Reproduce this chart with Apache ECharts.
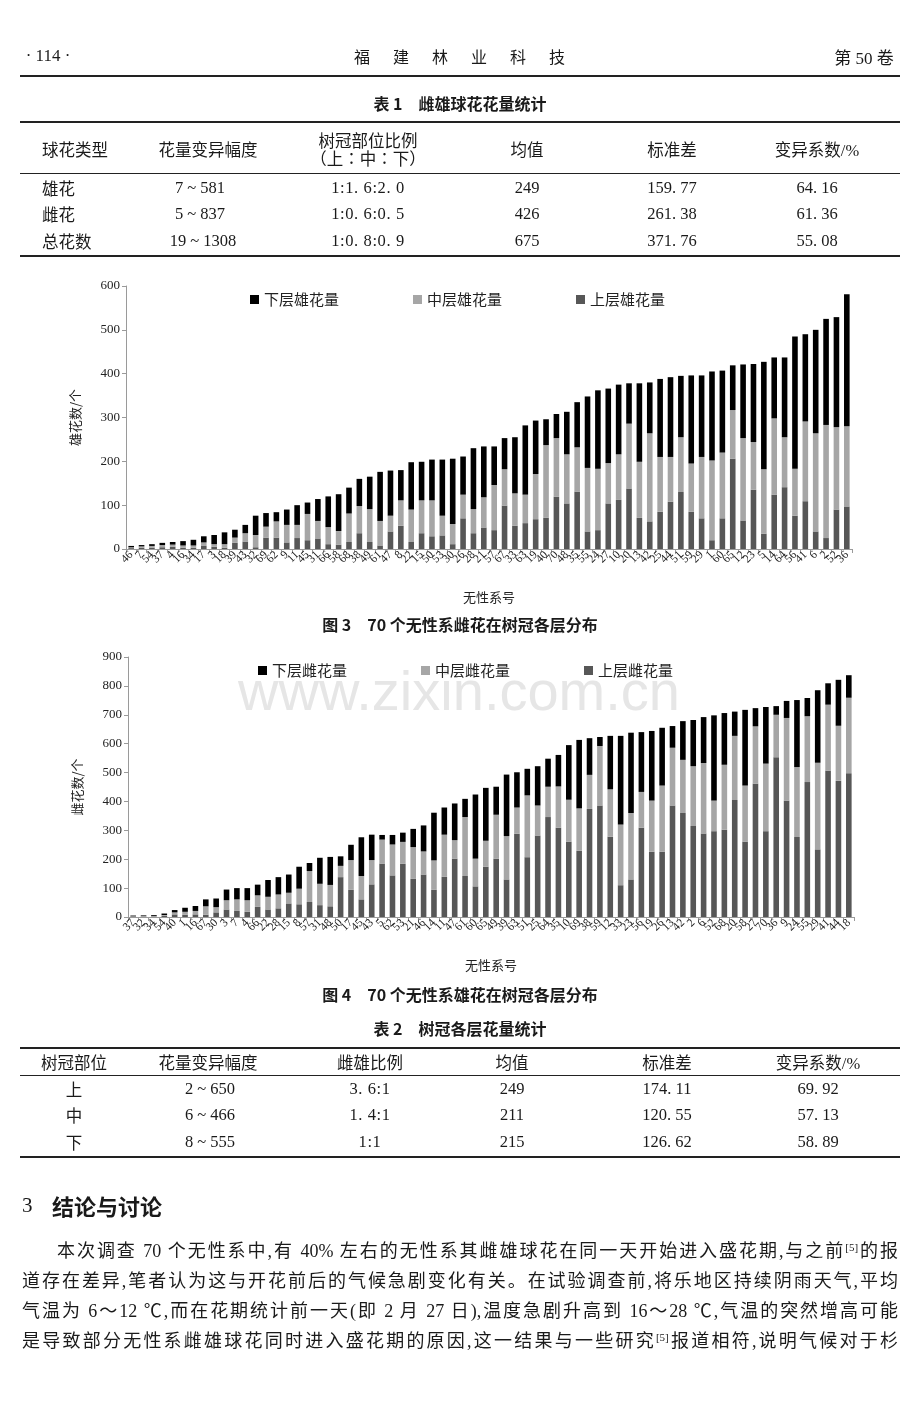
<!DOCTYPE html>
<html><head><meta charset="utf-8">
<script src="https://cdn.jsdelivr.net/npm/echarts@6/dist/echarts.min.js"></script>
<style>
html,body{margin:0;padding:0;background:#fff;}
#page{position:relative;width:920px;height:1416px;overflow:hidden;font-family:"Liberation Serif","Noto Sans CJK SC",serif;color:#1a1a1a;background:#fff;}
#chart{position:absolute;left:0;top:0;width:920px;height:1416px;}
#wm{position:absolute;left:459px;top:690px;transform:translate(-50%,-50%);font-family:"Liberation Sans",Arial,sans-serif;font-size:56px;color:#e6e6e6;white-space:nowrap;}
.c{position:absolute;transform:translate(-50%,-50%);white-space:nowrap;}
.l{position:absolute;transform:translateY(-50%);white-space:nowrap;}
.rule{position:absolute;left:20px;width:880px;background:#222;}
.b{font-family:"Noto Sans CJK SC",sans-serif;font-weight:bold;}
.tb{font-size:16.5px;}
.rt{letter-spacing:0.6px;}
.para{position:absolute;font-size:18px;font-family:"Liberation Serif","Noto Sans CJK SC",serif;text-align:justify;text-align-last:justify;white-space:nowrap;transform:translateY(-50%);line-height:22px;}
sup{font-size:11px;vertical-align:6px;line-height:0;}
.cap{font-size:16px;}
</style>
</head><body>
<div id="page">
<div id="wm">www.zixin.com.cn</div>
<div id="chart"></div>

<div class="c" style="left:48px;top:56px;font-size:17px;">· 114 ·</div>
<div class="c" style="left:471px;top:56px;font-size:16px;letter-spacing:23px;">福建林业科技</div>
<div class="c" style="left:864px;top:56px;font-size:17px;">第 50 卷</div>
<div class="rule" style="top:75px;height:1.5px;"></div>

<div class="c b cap" style="left:460px;top:103px;">表 1　雌雄球花花量统计</div>
<div class="rule" style="top:121px;height:1.5px;"></div>
<div class="rule" style="top:173px;height:1px;"></div>
<div class="rule" style="top:255px;height:1.5px;"></div>
<div class="l tb" style="left:42px;top:149px;">球花类型</div>
<div class="c tb" style="left:208px;top:149px;">花量变异幅度</div>
<div class="c tb" style="left:368px;top:140px;">树冠部位比例</div>
<div class="c tb" style="left:368px;top:158px;">（上∶中∶下）</div>
<div class="c tb" style="left:527px;top:149px;">均值</div>
<div class="c tb" style="left:672px;top:149px;">标准差</div>
<div class="c tb" style="left:817px;top:149px;">变异系数/%</div>

<div class="l tb" style="left:42px;top:188px;">雄花</div>
<div class="c tb" style="left:200px;top:188px;">7 ~ 581</div>
<div class="c tb rt" style="left:368px;top:188px;">1:1. 6:2. 0</div>
<div class="c tb" style="left:527px;top:188px;">249</div>
<div class="c tb" style="left:672px;top:188px;">159. 77</div>
<div class="c tb" style="left:817px;top:188px;">64. 16</div>

<div class="l tb" style="left:42px;top:214px;">雌花</div>
<div class="c tb" style="left:200px;top:214px;">5 ~ 837</div>
<div class="c tb rt" style="left:368px;top:214px;">1:0. 6:0. 5</div>
<div class="c tb" style="left:527px;top:214px;">426</div>
<div class="c tb" style="left:672px;top:214px;">261. 38</div>
<div class="c tb" style="left:817px;top:214px;">61. 36</div>

<div class="l tb" style="left:42px;top:241px;">总花数</div>
<div class="c tb" style="left:203px;top:241px;">19 ~ 1308</div>
<div class="c tb rt" style="left:368px;top:241px;">1:0. 8:0. 9</div>
<div class="c tb" style="left:527px;top:241px;">675</div>
<div class="c tb" style="left:672px;top:241px;">371. 76</div>
<div class="c tb" style="left:817px;top:241px;">55. 08</div>

<div class="c b cap" style="left:460px;top:624px;">图 3　70 个无性系雌花在树冠各层分布</div>
<div class="c b cap" style="left:460px;top:994px;">图 4　70 个无性系雄花在树冠各层分布</div>

<div class="c b cap" style="left:460px;top:1028px;">表 2　树冠各层花量统计</div>
<div class="rule" style="top:1047px;height:1.5px;"></div>
<div class="rule" style="top:1075px;height:1px;"></div>
<div class="rule" style="top:1156px;height:1.5px;"></div>
<div class="c tb" style="left:74px;top:1062px;">树冠部位</div>
<div class="c tb" style="left:208px;top:1062px;">花量变异幅度</div>
<div class="c tb" style="left:370px;top:1062px;">雌雄比例</div>
<div class="c tb" style="left:512px;top:1062px;">均值</div>
<div class="c tb" style="left:667px;top:1062px;">标准差</div>
<div class="c tb" style="left:818px;top:1062px;">变异系数/%</div>

<div class="c tb" style="left:74px;top:1089px;">上</div>
<div class="c tb" style="left:210px;top:1089px;">2 ~ 650</div>
<div class="c tb rt" style="left:370px;top:1089px;">3. 6:1</div>
<div class="c tb" style="left:512px;top:1089px;">249</div>
<div class="c tb" style="left:667px;top:1089px;">174. 11</div>
<div class="c tb" style="left:818px;top:1089px;">69. 92</div>

<div class="c tb" style="left:74px;top:1115px;">中</div>
<div class="c tb" style="left:210px;top:1115px;">6 ~ 466</div>
<div class="c tb rt" style="left:370px;top:1115px;">1. 4:1</div>
<div class="c tb" style="left:512px;top:1115px;">211</div>
<div class="c tb" style="left:667px;top:1115px;">120. 55</div>
<div class="c tb" style="left:818px;top:1115px;">57. 13</div>

<div class="c tb" style="left:74px;top:1142px;">下</div>
<div class="c tb" style="left:210px;top:1142px;">8 ~ 555</div>
<div class="c tb rt" style="left:370px;top:1142px;">1:1</div>
<div class="c tb" style="left:512px;top:1142px;">215</div>
<div class="c tb" style="left:667px;top:1142px;">126. 62</div>
<div class="c tb" style="left:818px;top:1142px;">58. 89</div>

<div class="l" style="left:22px;top:1205px;font-size:21px;">3</div>
<div class="l b" style="left:52px;top:1205px;font-size:22px;">结论与讨论</div>

<div class="para" style="left:57px;width:841px;top:1251px;">本次调查 70 个无性系中,有 40% 左右的无性系其雌雄球花在同一天开始进入盛花期,与之前<sup>[5]</sup>的报</div>
<div class="para" style="left:22px;width:876px;top:1281px;">道存在差异,笔者认为这与开花前后的气候急剧变化有关。在试验调查前,将乐地区持续阴雨天气,平均</div>
<div class="para" style="left:22px;width:876px;top:1311px;">气温为 6～12 ℃,而在花期统计前一天(即 2 月 27 日),温度急剧升高到 16～28 ℃,气温的突然增高可能</div>
<div class="para" style="left:22px;width:876px;top:1341px;">是导致部分无性系雌雄球花同时进入盛花期的原因,这一结果与一些研究<sup>[5]</sup>报道相符,说明气候对于杉</div>
</div>

<script>
// ---- Figure 3 (male flowers) ----
var maleClones = ['46','7','54','37','4','16','34','17','3','18','39','43','32','69','62','9','11','45','31','66','58','68','38','49','61','47','8','22','15','50','53','30','26','28','21','57','67','33','63','19','40','70','48','35','55','24','27','10','20','13','42','25','44','51','59','29','1','60','65','12','23','5','14','64','56','41','6','2','52','36'];
var maleUpper = [2,3,3,4,5,3,3,7,5,3,14,17,4,26,26,15,25,20,24,11,10,16,36,16,8,40,53,16,36,29,31,11,70,36,49,43,99,53,59,68,71,119,104,131,40,43,104,112,138,71,63,85,108,130,85,70,20,70,206,65,135,35,124,141,76,109,40,25,90,97];
var maleMiddle = [2,3,4,5,5,5,5,8,6,8,12,19,28,25,37,40,30,60,40,39,31,65,62,75,56,36,58,74,75,82,45,46,54,55,69,103,83,74,65,103,166,134,112,101,145,140,92,104,148,128,201,125,102,125,110,140,182,150,111,188,109,147,174,114,107,182,224,258,188,183];
var maleLower = [3,3,4,5,6,10,13,14,21,27,18,19,44,31,21,35,45,26,50,70,84,59,62,74,112,103,69,108,88,93,128,149,87,139,116,88,71,128,158,122,59,55,97,103,163,179,170,159,92,179,116,178,182,140,201,186,203,187,102,168,178,245,139,182,302,199,236,242,251,301];
var maleNames = ['下层雄花量','中层雄花量','上层雄花量'];
var maleTicks = [0,100,200,300,400,500,600];

// ---- Figure 4 (female flowers) ----
var femaleClones = ['37','32','34','54','40','1','16','67','30','3','7','4','66','22','28','15','8','57','31','48','50','17','45','43','5','62','53','21','46','14','11','47','61','60','65','49','39','63','51','25','64','35','10','69','38','59','12','33','23','56','19','26','13','42','2','6','52','68','20','58','27','70','36','9','24','55','29','41','44','18'];
var femaleUpper = [2,2,2,4,9,8,9,8,16,26,21,18,35,26,30,47,44,52,41,37,138,94,61,113,185,144,184,132,147,94,139,202,142,106,174,202,130,288,207,282,346,309,261,229,374,386,278,110,130,309,226,226,386,360,315,289,297,302,405,261,461,297,553,403,277,467,234,506,472,498];
var femaleMiddle = [1,2,2,3,7,10,12,29,18,32,40,40,40,44,48,37,54,107,74,74,39,103,81,84,83,107,76,110,80,102,146,64,204,96,90,152,150,91,214,104,105,143,145,147,118,206,164,210,230,124,177,229,200,184,207,244,106,225,222,194,199,234,147,286,242,228,300,229,190,261];
var femaleLower = [2,2,3,5,8,14,17,24,30,37,39,42,37,58,60,63,76,28,90,97,33,53,134,88,16,33,32,63,90,165,94,127,63,222,183,97,213,122,92,136,97,109,189,237,127,31,185,307,278,207,241,200,75,134,160,159,295,179,84,262,63,196,30,59,232,63,251,74,159,78];
var femaleNames = ['下层雌花量','中层雌花量','上层雌花量'];
var femaleTicks = [0,100,200,300,400,500,600,700,800,900];

var COL_UP = '#575757', COL_MID = '#a6a6a6', COL_LOW = '#000000';
var serif = '"Liberation Serif", "Noto Sans CJK SC", serif';
var cjk = '"Noto Sans CJK SC", sans-serif';

function xAx(idx, data) {
  return {
    type: 'category', gridIndex: idx, data: data,
    axisLine: {lineStyle: {color: '#9a9a9a', width: 1}},
    axisTick: {show: true, length: 4, lineStyle: {color: '#9a9a9a'}},
    axisLabel: {interval: 0, rotate: 45, fontSize: 11.5, color: '#222', margin: 4, fontFamily: serif},
    name: '无性系号', nameLocation: 'middle', nameGap: 42,
    nameTextStyle: {fontSize: 13, color: '#222', fontFamily: cjk}
  };
}
function yAx(idx, ticks, name) {
  return {
    type: 'value', gridIndex: idx, min: ticks[0], max: ticks[ticks.length - 1], interval: ticks[1] - ticks[0],
    axisLine: {show: true, lineStyle: {color: '#9a9a9a', width: 1}},
    axisTick: {show: true, length: 4, lineStyle: {color: '#9a9a9a'}},
    splitLine: {show: false},
    axisLabel: {fontSize: 13, color: '#222', margin: 6, fontFamily: serif},
    name: name, nameLocation: 'middle', nameRotate: 90, nameGap: 44,
    nameTextStyle: {fontSize: 13, color: '#222', fontFamily: cjk}
  };
}
function bars(idx, names, up, mid, low) {
  var common = {type: 'bar', stack: 's' + idx, xAxisIndex: idx, yAxisIndex: idx, barWidth: '54%'};
  return [
    Object.assign({name: names[2], data: up, itemStyle: {color: COL_UP}}, common),
    Object.assign({name: names[1], data: mid, itemStyle: {color: COL_MID}}, common),
    Object.assign({name: names[0], data: low, itemStyle: {color: COL_LOW}}, common)
  ];
}
function leg(names, left, top) {
  return {
    data: names, left: left, top: top, icon: 'rect', itemWidth: 9, itemHeight: 9, itemGap: 74,
    textStyle: {fontSize: 15, color: '#222', fontFamily: cjk}, selectedMode: false
  };
}

var chart = echarts.init(document.getElementById('chart'), null, {renderer: 'canvas'});
chart.setOption({
  animation: false,
  backgroundColor: 'transparent',
  grid: [
    {left: 126, top: 286, width: 726, height: 263},
    {left: 128, top: 657, width: 726, height: 260}
  ],
  legend: [leg(maleNames, 245, 287), leg(femaleNames, 253, 658)],
  xAxis: [xAx(0, maleClones), xAx(1, femaleClones)],
  yAxis: [yAx(0, maleTicks, '雄花数/个'), yAx(1, femaleTicks, '雌花数/个')],
  series: bars(0, maleNames, maleUpper, maleMiddle, maleLower).concat(bars(1, femaleNames, femaleUpper, femaleMiddle, femaleLower))
});
</script>
</body></html>
